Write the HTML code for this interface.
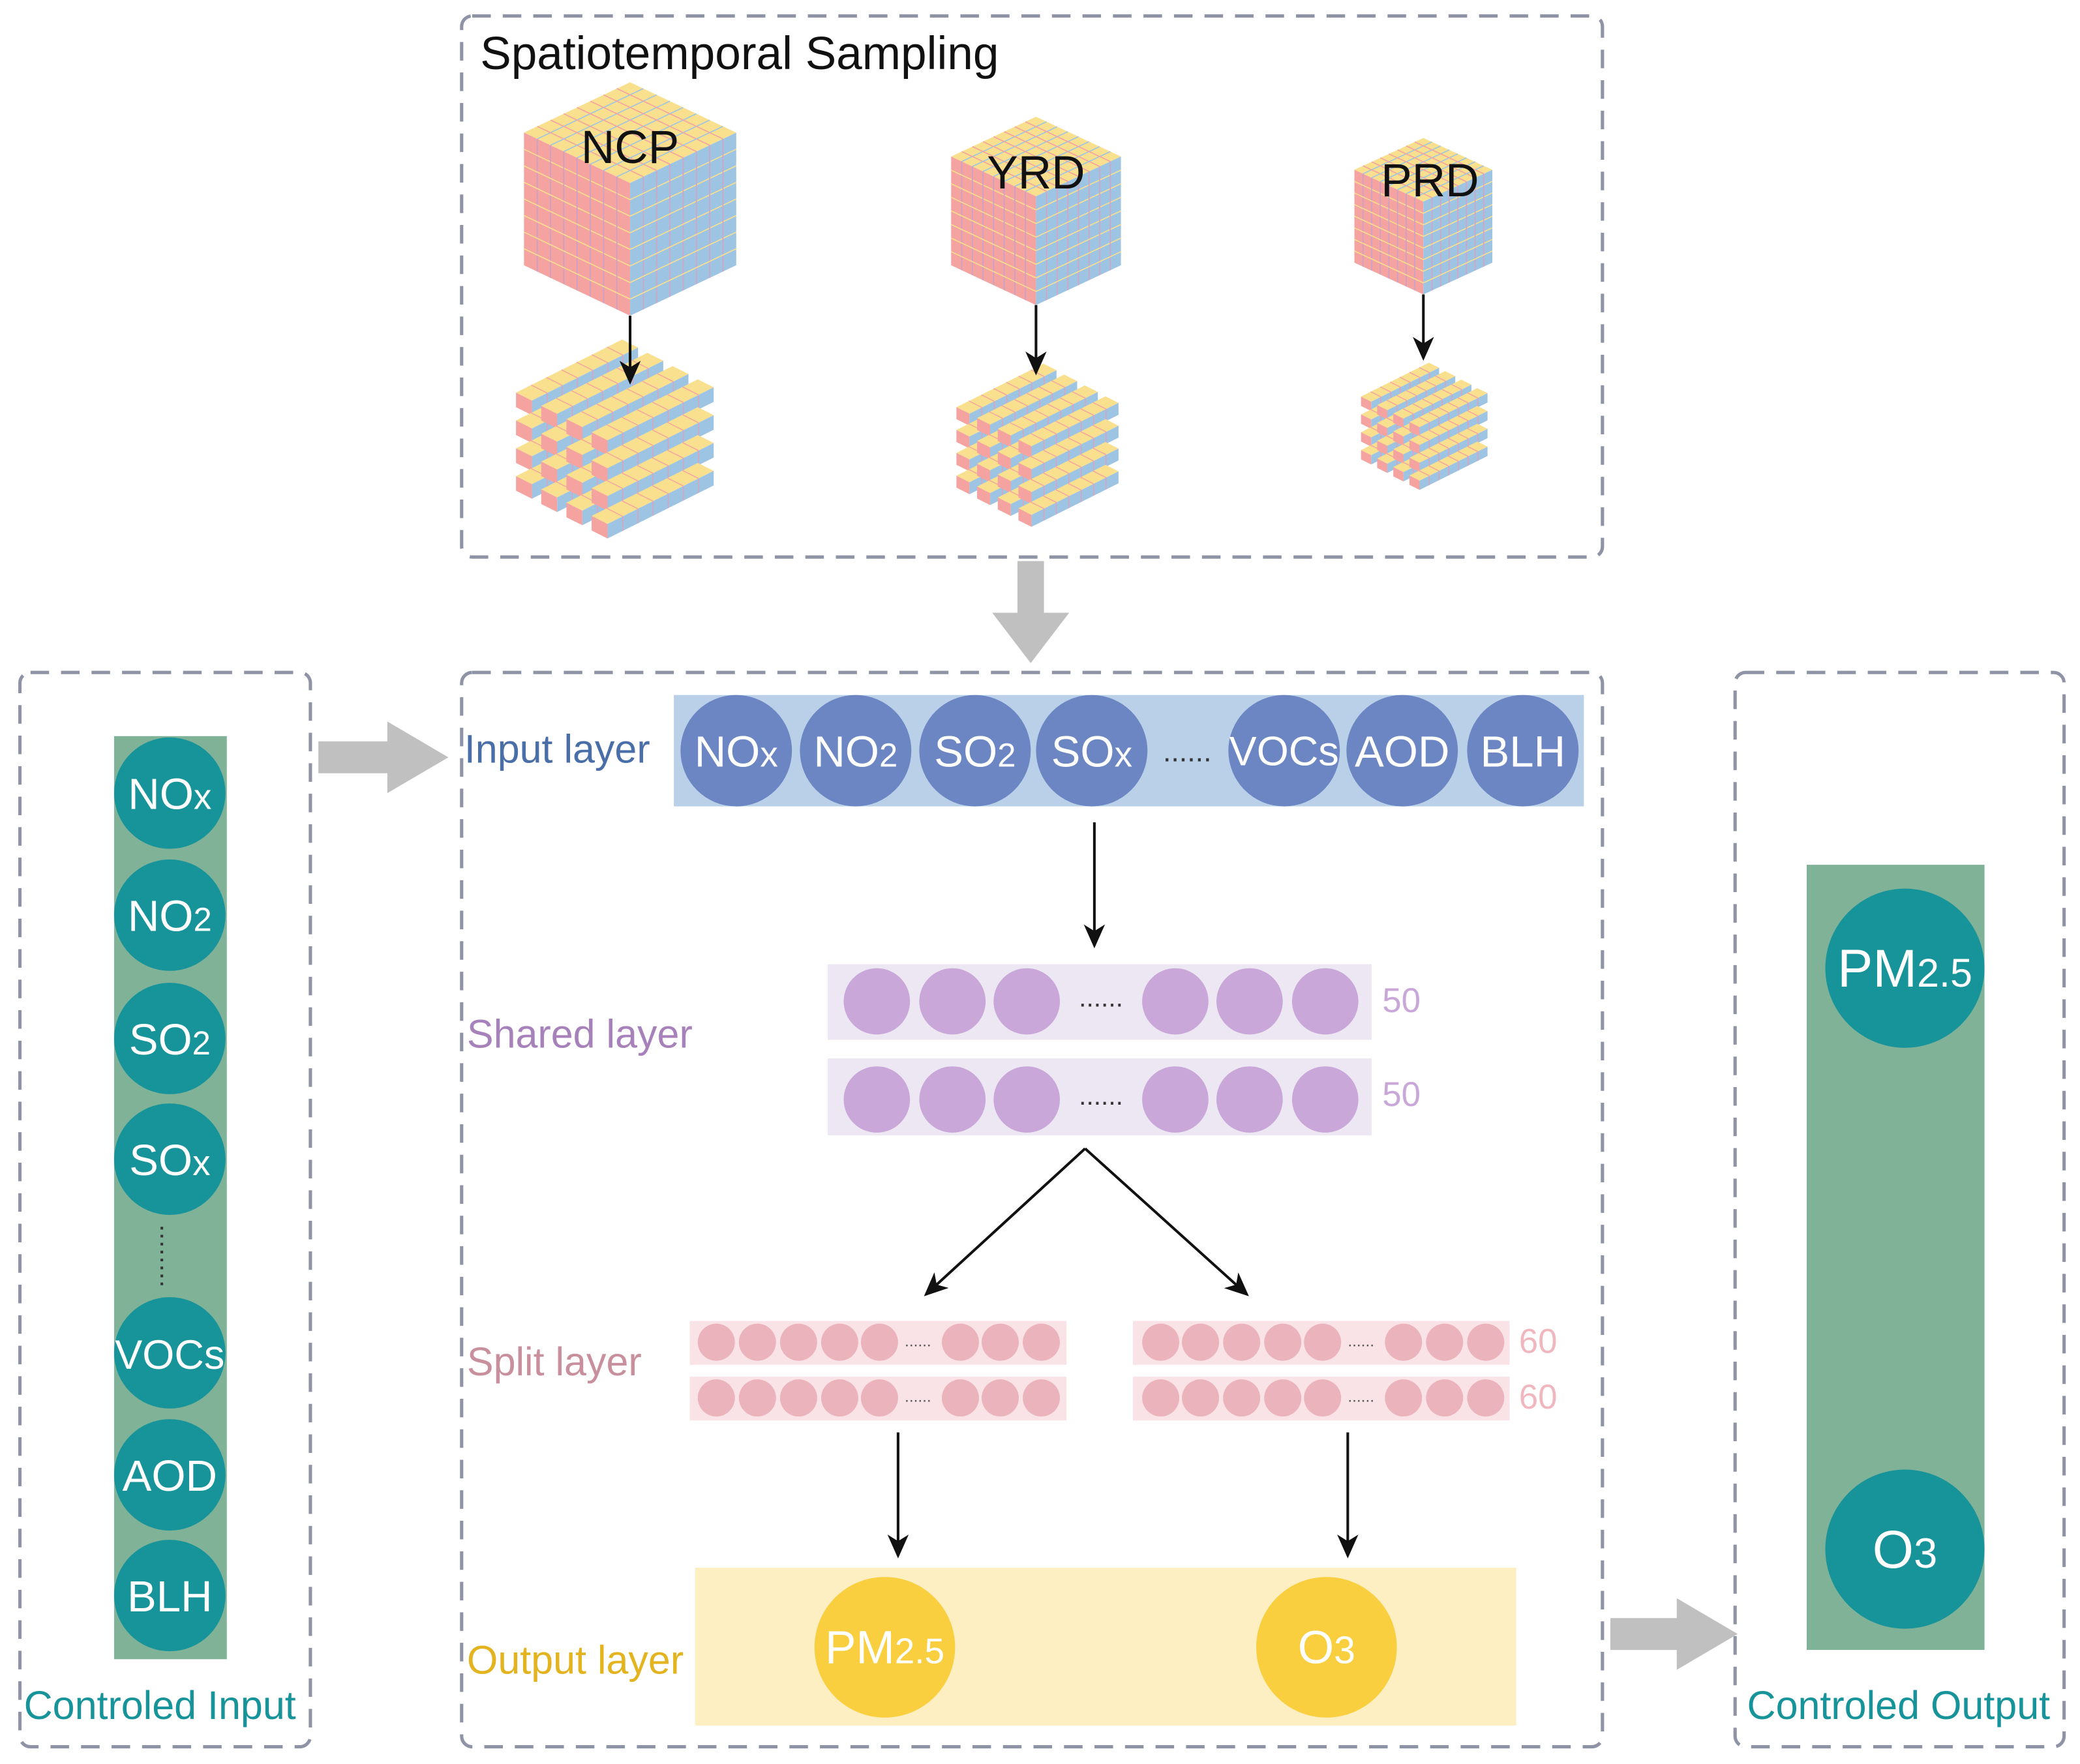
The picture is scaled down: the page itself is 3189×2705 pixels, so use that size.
<!DOCTYPE html>
<html><head><meta charset="utf-8"><style>
html,body{margin:0;padding:0;background:#fff}
svg{display:block}
text{font-family:"Liberation Sans",Arial,sans-serif}
</style></head><body>
<svg id="s" width="3189" height="2705" viewBox="0 0 1568 1330" xmlns="http://www.w3.org/2000/svg">
<defs>
<marker id="ah" markerWidth="18" markerHeight="16" refX="16" refY="8" orient="auto" markerUnits="userSpaceOnUse"><path d="M0,0 L18,8 L0,16 L5,8 Z" fill="#111"/></marker>
</defs>
<g fill="none" stroke="#8e93a6" stroke-width="2.5" stroke-dasharray="14,9">
<rect x="348" y="12" width="860" height="408" rx="8"/>
<rect x="15" y="507" width="219" height="810" rx="8"/>
<rect x="348" y="507" width="860" height="810" rx="8"/>
<rect x="1308" y="507" width="248" height="810" rx="8"/>
</g>
<text x="362" y="52" font-size="35" fill="#111">Spatiotemporal Sampling</text>
<g id="cubes"></g>
<g fill="#c0c0c0">
<polygon points="767,423 787,423 787,462 806,462 777,500 748,462 767,462"/>
<polygon points="240,559 292,559 292,544 338,571 292,598 292,583 240,583"/>
<polygon points="1214,1220 1264,1220 1264,1205 1310,1232 1264,1259 1264,1244 1214,1244"/>
</g>
<rect x="86" y="555" width="85" height="696" fill="#80b298"/>
<g fill="#17939a">
<circle cx="128" cy="598" r="42"/><circle cx="128" cy="690" r="42"/><circle cx="128" cy="783" r="42"/><circle cx="128" cy="874" r="42"/><circle cx="128" cy="1020" r="42"/><circle cx="128" cy="1112" r="42"/><circle cx="128" cy="1203" r="42"/>
</g>
<line x1="122" y1="925" x2="122" y2="970" stroke="#333" stroke-width="2" stroke-dasharray="2,4"/>
<g fill="#fff" font-size="33" text-anchor="middle">
<text x="128" y="610">NO<tspan font-size="27">x</tspan></text>
<text x="128" y="702">NO<tspan font-size="25">2</tspan></text>
<text x="128" y="795">SO<tspan font-size="25">2</tspan></text>
<text x="128" y="886">SO<tspan font-size="27">x</tspan></text>
<text x="128" y="1032" font-size="31">VOCs</text>
<text x="128" y="1124">AOD</text>
<text x="128" y="1215">BLH</text>
</g>
<text x="18" y="1296" font-size="30" fill="#17939a">Controled Input</text>
<text x="350" y="575" font-size="30" fill="#4a6fa8">Input layer</text>
<rect x="508" y="524" width="686" height="84" fill="#b9d0e8"/>
<g fill="#6b86c3">
<circle cx="555" cy="566" r="42"/><circle cx="645" cy="566" r="42"/><circle cx="735" cy="566" r="42"/><circle cx="823" cy="566" r="42"/><circle cx="968" cy="566" r="42"/><circle cx="1057" cy="566" r="42"/><circle cx="1148" cy="566" r="42"/>
</g>
<text x="895" y="574" font-size="22" fill="#333" text-anchor="middle">......</text>
<g fill="#fff" font-size="33" text-anchor="middle">
<text x="555" y="578">NO<tspan font-size="27">x</tspan></text>
<text x="645" y="578">NO<tspan font-size="25">2</tspan></text>
<text x="735" y="578">SO<tspan font-size="25">2</tspan></text>
<text x="823" y="578">SO<tspan font-size="27">x</tspan></text>
<text x="968" y="577" font-size="31">VOCs</text>
<text x="1057" y="578">AOD</text>
<text x="1148" y="578">BLH</text>
</g>
<g stroke="#111" stroke-width="2" marker-end="url(#ah)">
<line x1="825" y1="620" x2="825" y2="713"/>
<line x1="818" y1="866" x2="698" y2="976"/>
<line x1="818" y1="866" x2="940" y2="976"/>
<line x1="677" y1="1080" x2="677" y2="1173"/>
<line x1="1016" y1="1080" x2="1016" y2="1173"/>
</g>
<text x="352" y="790" font-size="30" fill="#a781ba">Shared layer</text>
<rect x="624" y="727" width="410" height="57" fill="#ede7f3"/>
<rect x="624" y="798" width="410" height="58" fill="#ede7f3"/>
<g fill="#c9a7d9" id="shared"></g>
<g font-size="26" fill="#c9a7d9"><text x="1042" y="763">50</text><text x="1042" y="834">50</text></g>
<text x="352" y="1037" font-size="30" fill="#c8909c">Split layer</text>
<g fill="#fae3e6">
<rect x="520" y="996" width="284" height="33"/><rect x="520" y="1038" width="284" height="33"/>
<rect x="854" y="996" width="284" height="33"/><rect x="854" y="1038" width="284" height="33"/>
</g>
<g fill="#ebb3bc" id="split"></g>
<g font-size="26" fill="#f0b7bf"><text x="1145" y="1020">60</text><text x="1145" y="1062">60</text></g>
<text x="352" y="1262" font-size="30" fill="#e3b320">Output layer</text>
<rect x="524" y="1182" width="619" height="119" fill="#fdefc1"/>
<circle cx="667" cy="1242" r="53" fill="#f9cf3f"/><circle cx="1000" cy="1242" r="53" fill="#f9cf3f"/>
<g fill="#fff" text-anchor="middle" font-size="35">
<text x="667" y="1254">PM<tspan font-size="27">2.5</tspan></text>
<text x="1000" y="1254">O<tspan font-size="29">3</tspan></text>
</g>
<rect x="1362" y="652" width="134" height="592" fill="#80b298"/>
<circle cx="1436" cy="730" r="60" fill="#17939a"/><circle cx="1436" cy="1168" r="60" fill="#17939a"/>
<g fill="#fff" text-anchor="middle" font-size="40">
<text x="1436" y="744">PM<tspan font-size="30">2.5</tspan></text>
<text x="1436" y="1182">O<tspan font-size="32">3</tspan></text>
</g>
<text x="1317" y="1296" font-size="30" fill="#17939a">Controled Output</text>
<g id="labels" font-size="35" fill="#111" text-anchor="middle">
<text x="475" y="123">NCP</text>
<text x="781" y="142">YRD</text>
<text x="1078" y="148">PRD</text>
</g>
<g stroke="#111" stroke-width="2" marker-end="url(#ah)">
<line x1="475" y1="238" x2="475" y2="288"/>
<line x1="781" y1="230" x2="781" y2="281"/>
<line x1="1073" y1="222" x2="1073" y2="270"/>
</g>
</svg>
<script>
var NS="http://www.w3.org/2000/svg";
function el(p,t,a){var e=document.createElementNS(NS,t);for(var k in a)e.setAttribute(k,a[k]);p.appendChild(e);return e;}
var Y="#f9e08e",P="#f4a3a0",B="#9ec4e4";
var g=document.getElementById("cubes");
var lab=document.getElementById("labels");
function poly(pts,f){el(g,"polygon",{points:pts.map(function(p){return p.join(",")}).join(" "),fill:f});}
function ln(a,b,c,w){el(g,"line",{x1:a[0],y1:a[1],x2:b[0],y2:b[1],stroke:c,"stroke-width":w||0.8});}
function cube(cx,t,w,d,h,n){
 var L=[cx-w,t+d],T=[cx,t],R=[cx+w,t+d],F=[cx,t+2*d];
 poly([L,T,R,F],Y);poly([L,F,[cx,t+2*d+h],[cx-w,t+d+h]],P);poly([F,R,[cx+w,t+d+h],[cx,t+2*d+h]],B);
 for(var i=1;i<n;i++){var f=i/n;
  ln([L[0]+(F[0]-L[0])*f,L[1]+(F[1]-L[1])*f],[T[0]+(R[0]-T[0])*f,T[1]+(R[1]-T[1])*f],"#9ec4e4");
  ln([L[0]+(T[0]-L[0])*f,L[1]+(T[1]-L[1])*f],[F[0]+(R[0]-F[0])*f,F[1]+(R[1]-F[1])*f],"#f4a3a0");
  var x=cx-w+w*f,y=t+d+d*f;ln([x,y],[x,y+h],"#c9a0c8");
  ln([cx-w,t+d+h*f],[cx,t+2*d+h*f],"#f9e08e");
  var x2=cx+w*f,y2=t+2*d-d*f;ln([x2,y2],[x2,y2+h],"#d4a3c0");
  ln([cx,t+2*d+h*f],[cx+w,t+d+h*f],"#f9e08e");
 }
}
function bar(x,y,L,e,hh,cells){
 poly([[x,y],[x+L,y-L/2],[x+L+e,y-L/2+e/2],[x+e,y+e/2]],Y);
 poly([[x+e,y+e/2],[x+L+e,y-L/2+e/2],[x+L+e,y-L/2+e/2+hh],[x+e,y+e/2+hh]],B);
 poly([[x,y],[x+e,y+e/2],[x+e,y+e/2+hh],[x,y+hh]],P);
 for(var i=1;i<cells;i++){var dx=L*i/cells;ln([x+e+dx,y+e/2-dx/2],[x+e+dx,y+e/2-dx/2+hh],"#e0a0b8",0.7);ln([x+dx,y-dx/2],[x+e+dx,y+e/2-dx/2],"#f4a3a0",0.7);}
}
function cluster(x0,y0,s){
 var L=80*s,e=12*s,hh=11*s,sp=21*s,dx=19*s,dy=10*s;
 for(var j=0;j<4;j++)for(var k=0;k<4;k++)bar(x0+j*dx,y0+j*dy+k*sp,L,e,hh,7);
}
cube(475,62,80,38,100,8);
cube(781,88,64,30,82,8);
cube(1073,104,52,24,70,8);
cluster(389,296,1);
cluster(721,307,0.82);
cluster(1026,299,0.64);
var sh=document.getElementById("shared");
[661,718,774,886,942,999].forEach(function(x){[755,829].forEach(function(y){el(sh,"circle",{cx:x,cy:y,r:25});});});
[755,829].forEach(function(y){var t=el(sh,"text",{x:830,y:y+4,"font-size":20,fill:"#333","text-anchor":"middle"});t.textContent="......";});
var sp=document.getElementById("split");
[540,571,602,633,663,724,754,785,875,905,936,967,997,1058,1089,1120].forEach(function(x){[1012,1054].forEach(function(y){el(sp,"circle",{cx:x,cy:y,r:14});});});
[692,1026].forEach(function(x){[1012,1054].forEach(function(y){var t=el(sp,"text",{x:x,y:y+3,"font-size":12,fill:"#555","text-anchor":"middle"});t.textContent="......";});});
</script>
</body></html>
